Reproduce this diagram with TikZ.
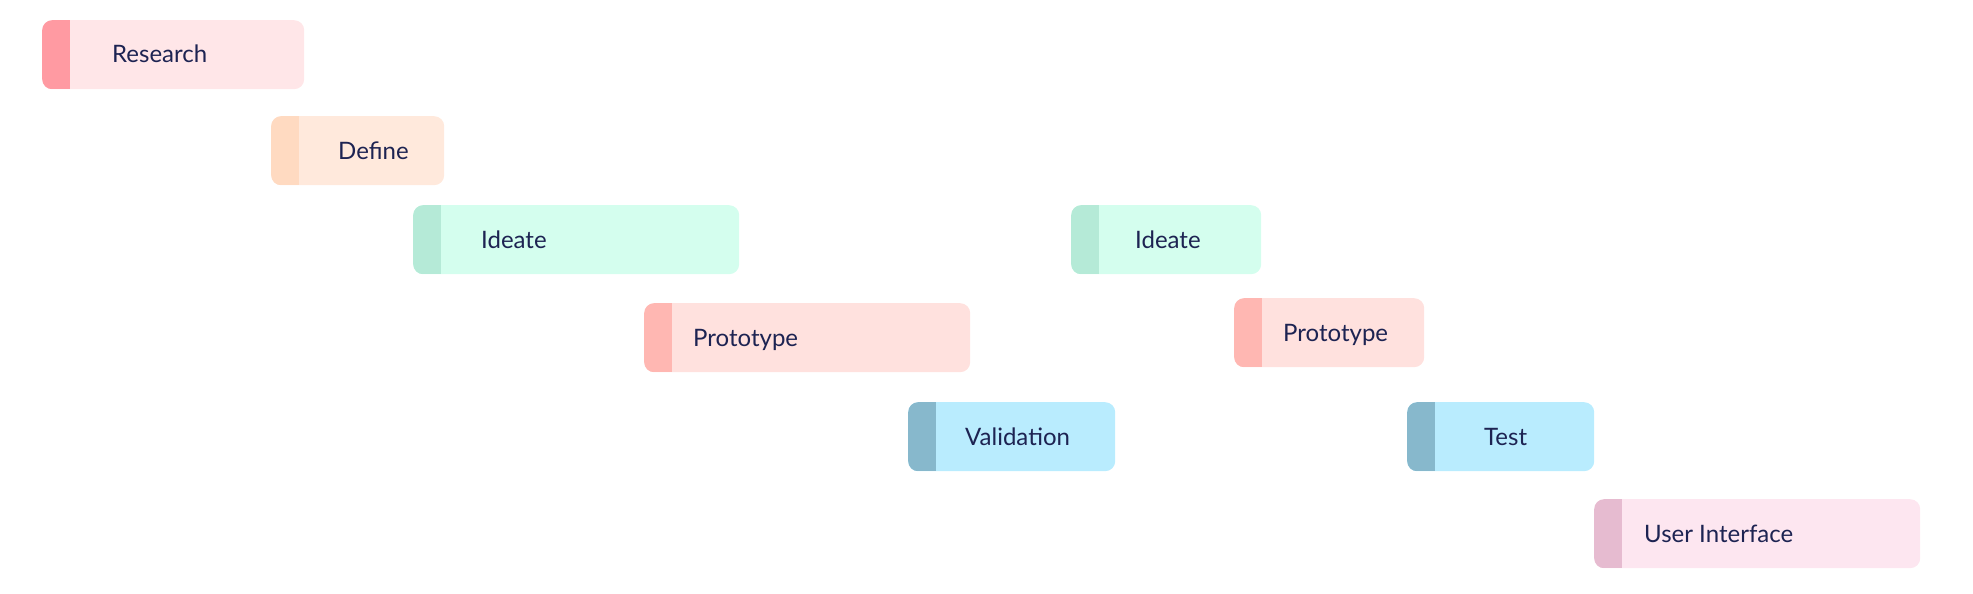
\documentclass[tikz,border=0pt]{standalone}
\usepackage{fontspec}
\setmainfont{Lato}
\definecolor{inkblue}{HTML}{1D2352}
\definecolor{researchbar}{HTML}{FFE6E8}
\definecolor{researchtab}{HTML}{FF9AA2}
\definecolor{definebar}{HTML}{FFE9DC}
\definecolor{definetab}{HTML}{FFDAC1}
\definecolor{ideatebar}{HTML}{D4FEEE}
\definecolor{ideatetab}{HTML}{B5EAD7}
\definecolor{protobar}{HTML}{FFE1DE}
\definecolor{prototab}{HTML}{FFB7B2}
\definecolor{testbar}{HTML}{B9ECFE}
\definecolor{testtab}{HTML}{87B8CC}
\definecolor{uibar}{HTML}{FDE6F0}
\definecolor{uitab}{HTML}{E6BBD0}
\begin{document}
\begin{tikzpicture}[x=1pt,y=-1pt]

			\tikzstyle{task}=[rounded corners=10pt,inner sep=0pt,
				minimum height=69pt,anchor=north west]
			\tikzstyle{caption}=[text=inkblue,inner sep=0pt,
				anchor=base west,font=\fontsize{24}{28}\selectfont]
			\tikzset{tab/.style={path picture={\fill[#1,sharp corners]
				(path picture bounding box.north west) rectangle
				([xshift=28pt]path picture bounding box.south west);}}}

			\useasboundingbox (0,0) rectangle (1973,594);

			\node[task,fill=researchbar,tab=researchtab,minimum width=262pt]
				(research)	at (42,20)	{};
			\node[task,fill=definebar,tab=definetab,minimum width=173pt]
				(define)	at (271,116)	{};
			\node[task,fill=ideatebar,tab=ideatetab,minimum width=326pt]
				(ideate)	at (413,205)	{};
			\node[task,fill=protobar,tab=prototab,minimum width=326pt]
				(prototype)	at (644,303)	{};
			\node[task,fill=testbar,tab=testtab,minimum width=207pt]
				(validation)	at (908,402)	{};
			\node[task,fill=ideatebar,tab=ideatetab,minimum width=190pt]
				(ideate2)	at (1071,205)	{};
			\node[task,fill=protobar,tab=prototab,minimum width=190pt]
				(prototype2)	at (1234,298)	{};
			\node[task,fill=testbar,tab=testtab,minimum width=187pt]
				(test)	at (1407,402)	{};
			\node[task,fill=uibar,tab=uitab,minimum width=326pt]
				(ui)	at (1594,499)	{};

			\node[caption] (researchtxt)	at ([shift={(70,43)}]research.north west)	{Research};
			\node[caption] (definetxt)	at ([shift={(67,43)}]define.north west)	{Define};
			\node[caption] (ideatetxt)	at ([shift={(68,43)}]ideate.north west)	{Ideate};
			\node[caption] (prototypetxt)	at ([shift={(49,43)}]prototype.north west)	{Prototype};
			\node[caption] (validationtxt)	at ([shift={(57,43)}]validation.north west)	{Validation};
			\node[caption] (ideate2txt)	at ([shift={(64,43)}]ideate2.north west)	{Ideate};
			\node[caption] (prototype2txt)	at ([shift={(49,43)}]prototype2.north west)	{Prototype};
			\node[caption] (testtxt)	at ([shift={(77,43)}]test.north west)	{Test};
			\node[caption] (uitxt)	at ([shift={(50,43)}]ui.north west)	{User Interface};

\end{tikzpicture}
\end{document}
